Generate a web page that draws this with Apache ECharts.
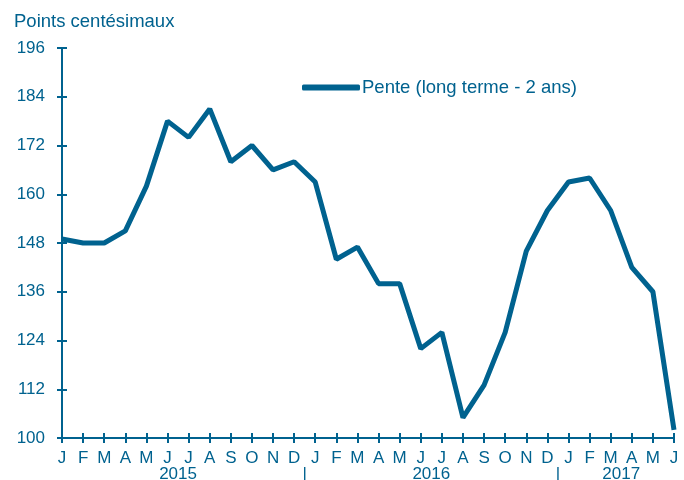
<!DOCTYPE html>
<html>
<head>
<meta charset="utf-8">
<script src="https://cdn.jsdelivr.net/npm/echarts@6/dist/echarts.min.js"></script>
<style>
    html, body { margin: 0; padding: 0; background: #fff; }
    #chart { width: 684px; height: 480px; }
</style>
</head>
<body>
<div id="chart"></div>
<script>
    // données
    var months = ['J','F','M','A','M','J','J','A','S','O','N','D',
                  'J','F','M','A','M','J','J','A','S','O','N','D',
                  'J','F','M','A','M','J'];
    var pente = [149, 148, 148, 151, 162, 178, 174, 181, 168, 172, 166, 168,
                 163, 144, 147, 138, 138, 122, 126, 105, 113, 126, 146, 156,
                 163, 164, 156, 142, 136, 102];
    // étiquettes des années (position en mois depuis janvier 2015)
    var yearPos = [5.5, 11.5, 17.5, 23.5, 26.5];
    var yearText = ['2015', '|', '2016', '|', '2017'];

    var blue = '#00628f';
    var font = 'Liberation Sans, Arial, sans-serif';

    var chart = echarts.init(document.getElementById('chart'));
    chart.setOption({
        animation: false,
        title: {
            text: 'Points centésimaux',
            left: 9, top: 7,
            textStyle: { color: blue, fontSize: 18.5, fontWeight: 'normal', fontFamily: font }
        },
        legend: {
            left: 297, top: 73,
            icon: 'roundRect',
            itemWidth: 58, itemHeight: 6,
            itemGap: 0,
            textStyle: { color: blue, fontSize: 18.5, fontFamily: font, padding: [0, 0, 0, -3] },
            data: ['Pente (long terme - 2 ans)']
        },
        grid: { left: 62, right: 10, top: 48, bottom: 42, outerBoundsMode: 'none', containLabel: false },
        xAxis: [{
            type: 'category',
            data: months,
            boundaryGap: false,
            axisLine: { lineStyle: { color: blue, width: 2 } },
            axisTick: { show: true, inside: false, length: 5, interval: 0, lineStyle: { color: blue, width: 2 } },
            axisLabel: { interval: 0, margin: 12, color: blue, fontSize: 17, fontFamily: font }
        }, {
            type: 'category',
            data: months,
            boundaryGap: false,
            position: 'bottom',
            axisLine: { show: false },
            axisTick: { show: true, inside: true, length: 5, interval: 0, lineStyle: { color: blue, width: 2 } },
            axisLabel: { show: false }
        }, {
            type: 'value',
            min: 0, max: 29, interval: 0.5,
            position: 'bottom',
            axisLine: { show: false },
            axisTick: { show: false },
            splitLine: { show: false },
            axisLabel: {
                margin: 28, color: blue, fontSize: 17, fontFamily: font,
                formatter: function (v) {
                    var i = yearPos.indexOf(v);
                    return i >= 0 ? yearText[i] : '';
                }
            }
        }],
        yAxis: [{
            type: 'value',
            min: 100, max: 196, interval: 12,
            axisLine: { show: true, lineStyle: { color: blue, width: 2 } },
            axisTick: { show: true, length: 5, lineStyle: { color: blue, width: 2 } },
            splitLine: { show: false },
            axisLabel: { margin: 17, color: blue, fontSize: 17, fontFamily: font }
        }, {
            type: 'value',
            min: 100, max: 196, interval: 12,
            position: 'left',
            axisLine: { show: false },
            axisTick: { show: true, inside: true, length: 5, lineStyle: { color: blue, width: 2 } },
            splitLine: { show: false },
            axisLabel: { show: false }
        }],
        series: [{
            name: 'Pente (long terme - 2 ans)',
            type: 'line',
            data: pente,
            showSymbol: false,
            symbol: 'none',
            lineStyle: { color: blue, width: 5 },
            itemStyle: { color: blue }
        }]
    });
</script>
</body>
</html>
